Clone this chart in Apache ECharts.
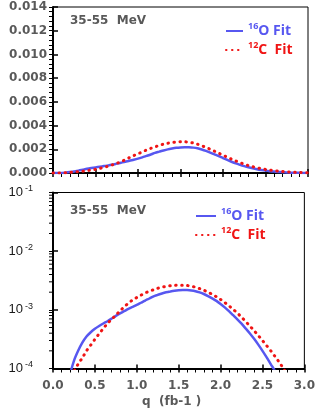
<!DOCTYPE html>
<html>
<head>
<meta charset="utf-8">
<script src="https://cdn.jsdelivr.net/npm/echarts@6/dist/echarts.min.js"></script>
<style>html,body{margin:0;padding:0;background:#fff}#c{width:318px;height:408px}</style>
</head>
<body>
<div id="c"></div>
<script>
// q values (fb-1)
const qValues = [0.00,0.05,0.10,0.15,0.20,0.25,0.30,0.35,0.40,0.45,0.50,0.55,0.60,0.65,0.70,0.75,0.80,0.85,0.90,0.95,
  1.00,1.05,1.10,1.15,1.20,1.25,1.30,1.35,1.40,1.45,1.50,1.55,1.60,1.65,1.70,1.75,1.80,1.85,1.90,1.95,
  2.00,2.05,2.10,2.15,2.20,2.25,2.30,2.35,2.40,2.45,2.50,2.55,2.60,2.65,2.70,2.75,2.80,2.85,2.90,2.95,3.00];
// 16O fit
const o16Fit = [2e-6,4e-6,1e-5,3e-5,7.5e-5,1.35e-4,2.0e-4,2.75e-4,3.5e-4,4.15e-4,4.75e-4,5.3e-4,5.85e-4,6.4e-4,7.1e-4,7.9e-4,8.7e-4,9.5e-4,1.04e-3,1.12e-3,
  1.21e-3,1.32e-3,1.44e-3,1.56e-3,1.70e-3,1.80e-3,1.90e-3,1.99e-3,2.06e-3,2.12e-3,2.16e-3,2.18e-3,2.17e-3,2.14e-3,2.08e-3,1.98e-3,1.86e-3,1.72e-3,1.57e-3,1.42e-3,
  1.26e-3,1.10e-3,9.5e-4,8.1e-4,6.9e-4,5.8e-4,4.8e-4,3.95e-4,3.2e-4,2.55e-4,2.0e-4,1.55e-4,1.18e-4,9e-5,6.5e-5,4.5e-5,3e-5,2e-5,1.3e-5,8e-6,5e-6];
// 12C fit
const c12Fit = [3e-6,6e-6,1.3e-5,2.6e-5,5e-5,8.8e-5,1.19e-4,1.52e-4,2.0e-4,2.5e-4,3.15e-4,3.9e-4,4.8e-4,5.85e-4,6.9e-4,8.1e-4,9.6e-4,1.12e-3,1.3e-3,1.47e-3,
  1.62e-3,1.78e-3,1.94e-3,2.08e-3,2.2e-3,2.33e-3,2.43e-3,2.51e-3,2.57e-3,2.61e-3,2.63e-3,2.63e-3,2.6e-3,2.53e-3,2.43e-3,2.3e-3,2.16e-3,2.0e-3,1.84e-3,1.67e-3,
  1.5e-3,1.33e-3,1.17e-3,1.02e-3,8.8e-4,7.5e-4,6.3e-4,5.3e-4,4.4e-4,3.65e-4,3.0e-4,2.45e-4,2.0e-4,1.6e-4,1.28e-4,1.0e-4,7.6e-5,5.7e-5,4.2e-5,3.0e-5,2.1e-5];
// log-axis minor tick values
const logMinorTicks = [2e-4,3e-4,4e-4,5e-4,6e-4,7e-4,8e-4,9e-4,2e-3,3e-3,4e-3,5e-3,6e-3,7e-3,8e-3,9e-3,2e-2,3e-2,4e-2,5e-2,6e-2,7e-2,8e-2,9e-2];
const seriesNames = ['O16', 'C12'];
const panelLabel = '35-55  MeV';
const xTitle = 'q  (fb-1 )';

const pairs = arr => qValues.map((q, i) => [q, arr[i]]);
const BLUE = '#5757f0', RED = '#f01414', GRAY = '#595959';
const blueStyle = { color: BLUE, width: 2.5 };
const redStyle = { color: RED, width: 3, type: [0.5, 5.5], cap: 'round' };

const chart = echarts.init(document.getElementById('c'), null, { renderer: 'canvas' });

const grids = [
  { left: 53, right: 10, top: 7, bottom: 235, show: true, borderColor: '#000', borderWidth: 1, containLabel: false },
  { left: 53, right: 10, top: 192.5, bottom: 39.5, show: true, borderColor: '#000', borderWidth: 1, containLabel: false }
];

function xAxes(gi, labels) {
  return [
    { type: 'value', gridIndex: gi, min: 0, max: 3, interval: 0.5, position: 'bottom',
      axisLine: { lineStyle: { color: '#000', width: 2 } },
      axisTick: { show: true, inside: false, length: 4, lineStyle: { color: '#000', width: 1.5 } },
      minorTick: { show: true, splitNumber: 5, length: 4, lineStyle: { color: '#000', width: 1 } },
      splitLine: { show: false }, minorSplitLine: { show: false },
      axisLabel: { show: labels, margin: 11, color: GRAY, fontSize: 12, fontWeight: 'bold', fontFamily: 'DejaVu Sans',
        formatter: v => v.toFixed(1) } },
    { type: 'value', gridIndex: gi, min: 0, max: 3, interval: 0.5, position: 'bottom',
      axisLine: { show: false }, axisLabel: { show: false }, splitLine: { show: false },
      axisTick: { show: true, inside: true, length: 4, lineStyle: { color: '#000', width: 1.5 } } }
  ];
}

const option = {
  animation: false,
  backgroundColor: '#fff',
  grid: grids,
  xAxis: [...xAxes(0, false), ...xAxes(1, true)],
  yAxis: [
    { type: 'value', gridIndex: 0, min: 0, max: 0.014, interval: 0.002, position: 'left',
      axisLine: { lineStyle: { color: '#000', width: 2 } },
      axisTick: { show: true, inside: false, length: 4, lineStyle: { color: '#000', width: 1 } },
      minorTick: { show: true, splitNumber: 5, length: 4, lineStyle: { color: '#000', width: 1 } },
      splitLine: { show: false }, minorSplitLine: { show: false },
      axisLabel: { margin: 6, color: GRAY, fontSize: 12, fontWeight: 'bold', fontFamily: 'DejaVu Sans',
        formatter: v => v.toFixed(3) } },
    { type: 'value', gridIndex: 0, min: 0, max: 0.014, interval: 0.002, position: 'left',
      axisLine: { show: false }, axisLabel: { show: false }, splitLine: { show: false },
      axisTick: { show: true, inside: true, length: 5, lineStyle: { color: '#000', width: 1.5 } } },
    { type: 'log', logBase: 10, gridIndex: 1, min: 1e-4, max: 0.1, position: 'left',
      axisLine: { lineStyle: { color: '#000', width: 2 } },
      axisTick: { show: true, inside: false, length: 4, lineStyle: { color: '#000', width: 1 } },
      splitLine: { show: false },
      axisLabel: { margin: 20,
        formatter: v => '{b|10}{s|' + Math.round(Math.log10(v)) + '}',
        rich: {
          b: { fontSize: 13, color: '#1a1a1a', fontFamily: 'Liberation Sans', lineHeight: 16 },
          s: { fontSize: 9, color: '#1a1a1a', fontFamily: 'Liberation Sans', lineHeight: 10, verticalAlign: 'top', padding: [0, 0, 0, 2] }
        } } },
    { type: 'log', logBase: 10, gridIndex: 1, min: 1e-4, max: 0.1, position: 'left',
      axisLine: { show: false }, axisLabel: { show: false }, splitLine: { show: false },
      axisTick: { show: true, inside: true, length: 5, lineStyle: { color: '#000', width: 1.5 } } }
  ],
  legend: [0, 1].map(i => ({
    orient: 'vertical',
    left: i === 0 ? 220 : 190,
    top: i === 0 ? 17 : 202,
    itemWidth: i === 0 ? 17 : 20,
    itemHeight: 14,
    itemGap: 3,
    data: seriesNames,
    selectedMode: false,
    itemStyle: { opacity: 0 },
    formatter: name => name === 'O16' ? '{bs|16}{bt|O Fit}' : '{rs|12}{rt|C  Fit}',
    textStyle: {
      rich: {
        bs: { fontSize: 9, color: BLUE, fontWeight: 'bold', fontFamily: 'Open Sans', lineHeight: 10, verticalAlign: 'top' },
        bt: { fontSize: 14, color: BLUE, fontWeight: 'bold', fontFamily: 'Open Sans', lineHeight: 18 },
        rs: { fontSize: 9, color: RED, fontWeight: 'bold', fontFamily: 'Open Sans', lineHeight: 10, verticalAlign: 'top' },
        rt: { fontSize: 14, color: RED, fontWeight: 'bold', fontFamily: 'Open Sans', lineHeight: 18 }
      }
    }
  })),
  graphic: [
    { type: 'text', left: 70, top: 15, style: { text: panelLabel, fill: GRAY, font: 'bold 12px "DejaVu Sans"' } },
    { type: 'text', left: 70, top: 205, style: { text: panelLabel, fill: GRAY, font: 'bold 12px "DejaVu Sans"' } },
    { type: 'text', left: 142, top: 396, style: { text: xTitle, fill: GRAY, font: 'bold 12px "DejaVu Sans"' } }
  ],
  series: [
    { name: 'O16', type: 'line', xAxisIndex: 0, yAxisIndex: 0, data: pairs(o16Fit), showSymbol: false, symbol: 'none', smooth: 0.3, lineStyle: blueStyle, itemStyle: { color: BLUE }, z: 3 },
    { name: 'C12', type: 'line', xAxisIndex: 0, yAxisIndex: 0, data: pairs(c12Fit), showSymbol: false, symbol: 'none', smooth: 0.3, lineStyle: redStyle, itemStyle: { color: RED }, z: 4 },
    { name: 'O16', type: 'line', xAxisIndex: 2, yAxisIndex: 2, data: pairs(o16Fit), showSymbol: false, symbol: 'none', smooth: 0.3, lineStyle: blueStyle, itemStyle: { color: BLUE }, z: 3 },
    { name: 'C12', type: 'line', xAxisIndex: 2, yAxisIndex: 2, data: pairs(c12Fit), showSymbol: false, symbol: 'none', smooth: 0.3, lineStyle: redStyle, itemStyle: { color: RED }, z: 4 },
    { type: 'custom', xAxisIndex: 2, yAxisIndex: 2, silent: true, clip: false,
      data: logMinorTicks.map(v => [0, v]),
      renderItem: (params, api) => {
        const p = api.coord([api.value(0), api.value(1)]);
        return { type: 'line', shape: { x1: p[0] - 4, y1: p[1], x2: p[0], y2: p[1] }, style: { stroke: '#000', lineWidth: 1 } };
      } }
  ]
};
chart.setOption(option);
</script>
</body>
</html>
